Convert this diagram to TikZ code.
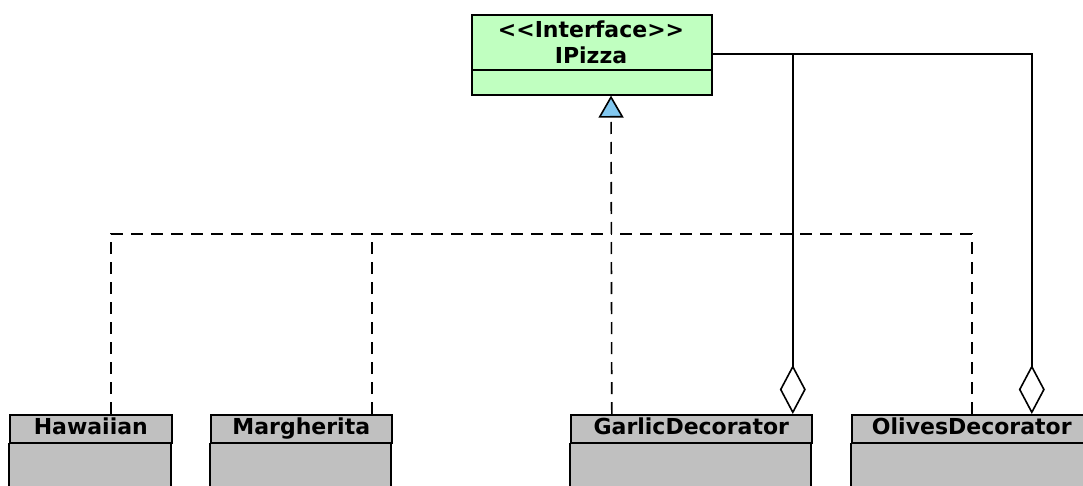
\documentclass[tikz,border=0pt]{standalone}
\usepackage{fontspec}
\setsansfont{DejaVu Sans}
\usetikzlibrary{arrows.meta}
\definecolor{ifgreen}{RGB}{192,255,192}
\definecolor{clsgray}{RGB}{192,192,192}
\definecolor{triblue}{RGB}{130,200,240}
\begin{document}
\begin{tikzpicture}[x=1pt,y=-1pt,
  every node/.style={font=\sffamily\bfseries\fontsize{22}{26}\selectfont, inner sep=0pt},
  clshead/.style={draw, line width=1.6pt, fill=clsgray, anchor=north west,
    minimum height=28pt, text height=15pt, text depth=4pt},
  clsbody/.style={draw, line width=1.6pt, fill=clsgray},
  realize/.style={line width=1.6pt, dash pattern=on 12pt off 8pt},
  aggr/.style={line width=1.6pt, {Diamond[open,length=49pt,width=26pt,line width=1.6pt]}-},
]
\useasboundingbox (0,0) rectangle (1083,486);
\clip (0,0) rectangle (1083,486);

% interface
\node[draw, line width=1.6pt, fill=ifgreen, anchor=north west,
  minimum width=240pt, minimum height=80pt] (ipizza) at (471,14) {};
\draw[line width=1.6pt] (ipizza.west |- 0,70) -- (ipizza.east |- 0,70);
\node (ifstereo) at (591,29) {{<}{<}Interface{>}{>}};
\node (ifname) at (591,55) {IPizza};
\coordinate (ifport) at ([yshift=1pt]ipizza.east);

% classes
\node[clshead, minimum width=162pt] (hawaiian) at (9,414) {Hawaiian};
\draw[clsbody] (hawaiian.south west) rectangle ++(162,60);
\node[clshead, minimum width=181pt] (margherita) at (210,414) {Margherita};
\draw[clsbody] (margherita.south west) rectangle ++(181,60);
\node[clshead, minimum width=241pt] (garlic) at (570,414) {GarlicDecorator};
\draw[clsbody] (garlic.south west) rectangle ++(241,60);
\node[clshead, minimum width=240pt] (olives) at (851,414) {OlivesDecorator};
\draw[clsbody] (olives.south west) rectangle ++(240,60);

% realization
\coordinate (junc) at (611,234);
\draw[realize] ([xshift=20pt]hawaiian.north) |- (junc);
\draw[realize] ([xshift=70.5pt]margherita.north) -- ([xshift=70.5pt]margherita.north |- junc);
\draw[realize] (olives.north) |- (junc);
\draw[realize, -{Triangle[length=22pt,width=25pt,fill=triblue,line width=1.6pt]}]
  ([xshift=-79.5pt]garlic.north) -- (ipizza.south -| junc);

% aggregation
\draw[aggr] ([xshift=60pt]olives.north) |- (ifport);
\draw[aggr] ([xshift=101.5pt]garlic.north) -- ([xshift=101.5pt]garlic.north |- ifport);
\end{tikzpicture}
\end{document}
